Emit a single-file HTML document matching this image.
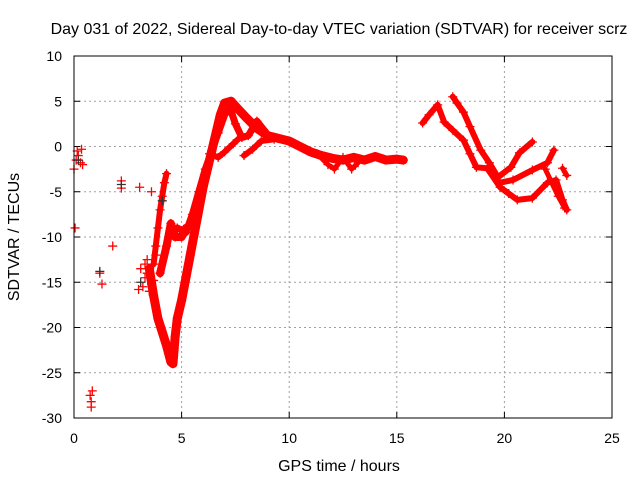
<!DOCTYPE html>
<html><head><meta charset="utf-8"><style>
body{margin:0;background:#fff}
svg{display:block;font-family:"Liberation Sans",sans-serif}
</style></head><body>
<svg id="c" width="640" height="480">
<rect width="640" height="480" fill="#fff"/>
<text x="339" y="34" font-size="16" text-anchor="middle">Day 031 of 2022, Sidereal Day-to-day VTEC variation (SDTVAR) for receiver scrz</text>
<text x="339" y="471" font-size="16" text-anchor="middle">GPS time / hours</text>
<text transform="translate(19,237) rotate(-90)" font-size="16" text-anchor="middle">SDTVAR / TECUs</text>
<g id="grid"></g>
<g id="axes"></g>
<g id="marks"></g>
<rect x="74" y="56" width="538" height="362" fill="none" stroke="#000" stroke-width="1"/>
</svg>
<script>
const xTicks=[0,5,10,15,20,25];
const yTicks=[10,5,0,-5,-10,-15,-20,-25,-30];
const trackA=[[3.5,-13.5],[3.7,-16.5],[3.9,-19],[4.1,-20.5],[4.3,-22],[4.5,-23.8],[4.6,-24],[4.7,-21],[4.8,-19],[5.0,-17],[5.2,-14.5],[5.4,-12],[5.6,-9.5],[5.8,-7],[6.0,-4.5],[6.2,-2.5],[6.4,-0.5],[6.6,1.5],[6.8,3.5],[7.0,4.8],[7.3,5],[7.6,4.2],[8.0,3.2],[8.5,2],[9.0,1.2],[9.5,0.9],[10,0.6],[10.5,0],[11,-0.6],[11.5,-1],[12,-1.3],[12.5,-1.5],[13,-1.2],[13.5,-1.5],[14,-1.1],[14.5,-1.5],[15,-1.4],[15.3,-1.5]];
const trackB=[[4.8,-9],[5.2,-9.5],[5.5,-7.5],[5.8,-5],[6.1,-2.5],[6.4,-0.5],[6.7,1.5],[7.0,3.5],[7.2,4.6],[7.5,2.5],[7.8,1],[8.1,1.2],[8.5,2.8],[9.0,1.3]];
const trackC=[[6.3,-0.8],[6.7,-1.2],[7.0,-0.6],[7.4,0.3],[7.8,1.2]];
const trackD=[[7.9,-1],[8.3,-0.3],[8.7,0.6],[9.3,0.8]];
const trackE=[[11.3,-0.8],[11.8,-2],[12.1,-2.5],[12.5,-1.2],[12.9,-2.5],[13.2,-1.8]];
const trackR1=[[16.2,2.6],[16.5,3.5],[16.9,4.6],[17.2,2.7],[17.6,1.8],[18.1,0.7],[18.4,-0.8],[18.7,-2.3],[19.2,-2.4],[19.8,-4.5],[20.2,-5.2],[20.6,-5.9],[21.3,-5.7],[22.0,-4],[22.4,-3.7],[22.7,-5.9],[22.9,-7]];
const trackR2=[[17.6,5.5],[17.8,4.8],[18.1,3.8],[18.4,2.2],[18.9,-0.4],[19.3,-1.8],[19.7,-3.4],[20.3,-2.3],[20.7,-0.7],[21.3,0.5]];
const trackR3=[[19.8,-4],[20.4,-3.7],[21.3,-2.6],[22.0,-1.8],[22.3,-0.4]];
const trackR4=[[21.9,-2.5],[22.2,-4],[22.5,-5.5],[22.8,-6.8]];
const trackR5=[[22.7,-2.4],[22.9,-3.2]];
const trackL=[[4.0,-14],[4.3,-11],[4.5,-8.5],[4.7,-10],[5.0,-10],[5.2,-9]];
const trackColumn=[[3.7,-13],[3.8,-11],[3.9,-9],[4.0,-7],[4.1,-5.5],[4.2,-4],[4.3,-3]];
const scatter=[[0.0,-2.5],[0.1,-1.5],[0.15,-0.5],[0.2,-1],[0.3,-1.8],[0.35,-0.3],[0.4,-2],[0.05,-9],[0.75,-27.5],[0.8,-28.2],[0.8,-28.8],[0.85,-27],[1.2,-14],[1.3,-15.2],[1.8,-11],[2.2,-3.8],[2.2,-4.6],[3.05,-4.5],[3.2,-15.5],[3.0,-15.8],[3.3,-13],[3.6,-5],[3.3,-14.5],[3.6,-15.2],[3.4,-12.5],[3.7,-14.8],[3.5,-16],[3.1,-13.5],[3.4,-14],[3.8,-12]];
const blackPts=[[1.2,-13.8],[3.1,-15],[4.1,-6],[0.2,-1.5],[2.2,-4.2]];

const X=t=>74+t*(538/25), Y=v=>56+(10-v)*(362/40);
const NS='http://www.w3.org/2000/svg';
const grid=document.getElementById('grid'),axes=document.getElementById('axes'),marks=document.getElementById('marks');
function mk(tag,a,p){const e=document.createElementNS(NS,tag);for(const k in a)e.setAttribute(k,a[k]);p.appendChild(e);return e;}
xTicks.forEach(t=>{
 if(t>0&&t<25){const g=mk('line',{x1:X(t),x2:X(t),y1:56,y2:418,stroke:'#a0a0a0','stroke-dasharray':'2,3'},grid);
 
 }
 mk('line',{x1:X(t),x2:X(t),y1:418,y2:412,stroke:'#000'},axes);
 mk('line',{x1:X(t),x2:X(t),y1:56,y2:62,stroke:'#000'},axes);
 const l=mk('text',{x:X(t),y:443,'font-size':14,'text-anchor':'middle'},axes);l.textContent=t;
 
 
});
yTicks.forEach(v=>{
 if(v<10&&v>-30){const g=mk('line',{x1:74,x2:612,y1:Y(v),y2:Y(v),stroke:'#a0a0a0','stroke-dasharray':'2,3'},grid);
 
 }
 mk('line',{x1:74,x2:80,y1:Y(v),y2:Y(v),stroke:'#000'},axes);
 mk('line',{x1:606,x2:612,y1:Y(v),y2:Y(v),stroke:'#000'},axes);
 const l=mk('text',{x:62,y:Y(v)+5,'font-size':14,'text-anchor':'end'},axes);l.textContent=v;
 
 
});
function plus(t,v,col){
 const p=mk('path',{d:`M${X(t)-4.5},${Y(v)}h9M${X(t)},${Y(v)-4.5}v9`,stroke:col,'stroke-width':1.3,fill:'none'},marks);
 
 
}
function track(arr,w){
 const pl=mk('polyline',{points:arr.map(d=>X(d[0])+','+Y(d[1])).join(' '),fill:'none',stroke:'#f00','stroke-width':w,'stroke-linejoin':'round','stroke-linecap':'round'},marks);
 
 
 arr.forEach(d=>plus(d[0],d[1],'#f00'));
}
track(trackA,9);track(trackB,7);track(trackC,6);track(trackD,6);track(trackE,5);
track(trackR1,6);track(trackR2,6);track(trackR3,6);track(trackR4,5);track(trackR5,5);
track(trackL,8);track(trackColumn,6);
scatter.forEach(d=>plus(d[0],d[1],'#f00'));
blackPts.forEach(d=>plus(d[0],d[1],'#333'));
</script>
</body></html>
